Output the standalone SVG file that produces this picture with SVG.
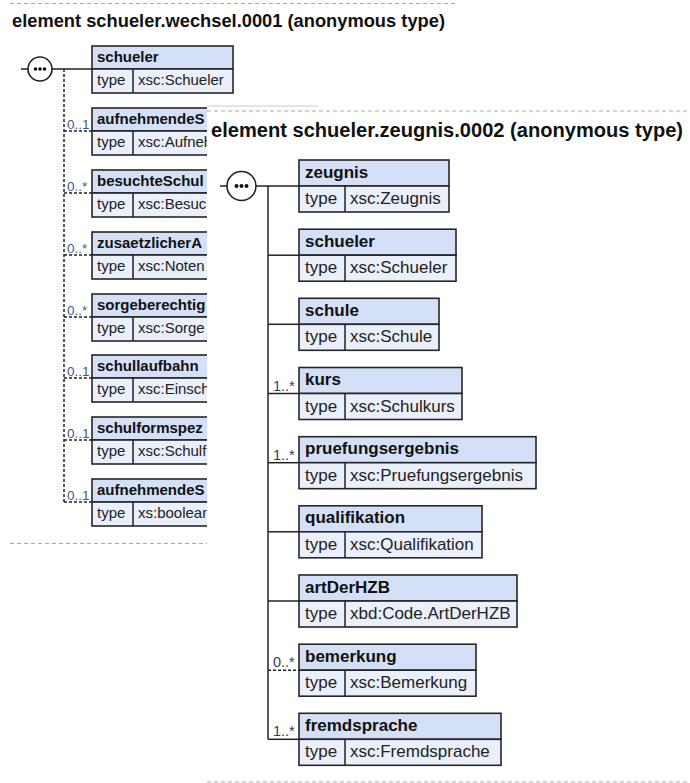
<svg xmlns="http://www.w3.org/2000/svg" width="690" height="783" viewBox="0 0 690 783">
<style>
.sep{stroke:#aaa;stroke-width:1;stroke-dasharray:4 3;fill:none}
.hd{fill:#d4e0f7;stroke:#262626;stroke-width:1.6}
.ty{fill:#e9effb;stroke:#262626;stroke-width:1.6}
.ln{stroke:#222;stroke-width:1.5;fill:none}
.dl{stroke:#222;stroke-width:1.5;fill:none;stroke-dasharray:3 2}
.t1{font-family:"Liberation Sans",Arial,sans-serif;font-weight:bold;font-size:18px;fill:#111}
.t2{font-family:"Liberation Sans",Arial,sans-serif;font-weight:bold;font-size:20px;fill:#111}
.n1{font-family:"Liberation Sans",Arial,sans-serif;font-weight:bold;font-size:15px;fill:#111}
.v1{font-family:"Liberation Sans",Arial,sans-serif;font-size:15px;fill:#222}
.n2{font-family:"Liberation Sans",Arial,sans-serif;font-weight:bold;font-size:17px;fill:#111}
.v2{font-family:"Liberation Sans",Arial,sans-serif;font-size:17px;fill:#222}
.m1{font-family:"Liberation Sans",Arial,sans-serif;font-size:13.5px;fill:#3a5c94}
.m2{font-family:"Liberation Sans",Arial,sans-serif;font-size:14.5px;fill:#2e3d5c}
.circ{fill:#fff;stroke:#222;stroke-width:1.6}
.dot{fill:#111}
</style>
<defs>
<clipPath id="leftclip"><rect x="0" y="0" width="690" height="106"/><rect x="0" y="106" width="207" height="677"/></clipPath>
</defs>
<rect width="690" height="783" fill="#fff"/>

<!-- Diagram 1 (background, cut by overlay) -->
<g id="diagram1">
<line class="sep" x1="10" y1="3.5" x2="455" y2="3.5"/>
<text class="t1" x="12" y="27" textLength="433" lengthAdjust="spacingAndGlyphs">element schueler.wechsel.0001 (anonymous type)</text>
<line class="sep" x1="10" y1="543.5" x2="207" y2="543.5"/>
</g>

<g id="connectors1" clip-path="url(#leftclip)">
<line class="ln" x1="21" y1="69" x2="28" y2="69"/>
<line class="ln" x1="52" y1="69" x2="92" y2="69"/>
<line class="dl" x1="64" y1="69" x2="64" y2="502"/>
<line class="dl" x1="64" y1="131" x2="92" y2="131"/>
<line class="dl" x1="64" y1="193" x2="92" y2="193"/>
<line class="dl" x1="64" y1="255" x2="92" y2="255"/>
<line class="dl" x1="64" y1="317" x2="92" y2="317"/>
<line class="dl" x1="64" y1="378" x2="92" y2="378"/>
<line class="dl" x1="64" y1="440" x2="92" y2="440"/>
<line class="dl" x1="64" y1="502" x2="92" y2="502"/>
<text class="m1" x="67" y="129">0..1</text>
<text class="m1" x="67" y="191">0..*</text>
<text class="m1" x="67" y="253">0..*</text>
<text class="m1" x="67" y="315">0..*</text>
<text class="m1" x="67" y="376">0..1</text>
<text class="m1" x="67" y="438">0..1</text>
<text class="m1" x="67" y="500">0..1</text>
</g>

<g id="seq1">
<circle class="circ" cx="40" cy="69" r="12"/>
<circle class="dot" cx="35.5" cy="69" r="1.8"/>
<circle class="dot" cx="40" cy="69" r="1.8"/>
<circle class="dot" cx="44.5" cy="69" r="1.8"/>
</g>

<g clip-path="url(#leftclip)">
<g id="w-schueler">
<rect class="hd" x="92" y="46" width="141" height="23"/>
<rect class="ty" x="92" y="69" width="141" height="24"/>
<line class="ln" x1="133" y1="69" x2="133" y2="93"/>
<text class="n1" x="97" y="62">schueler</text>
<text class="v1" x="97" y="85">type</text>
<text class="v1" x="138" y="85">xsc:Schueler</text>
</g>
<g id="w-aufnehmendeSchule">
<rect class="hd" x="92" y="108" width="160" height="23"/>
<rect class="ty" x="92" y="131" width="160" height="24"/>
<line class="ln" x1="133" y1="131" x2="133" y2="155"/>
<text class="n1" x="97" y="124">aufnehmendeS</text>
<text class="v1" x="97" y="147">type</text>
<text class="v1" x="138" y="147">xsc:Aufneh</text>
</g>
<g id="w-besuchteSchule">
<rect class="hd" x="92" y="170" width="160" height="23"/>
<rect class="ty" x="92" y="193" width="160" height="24"/>
<line class="ln" x1="133" y1="193" x2="133" y2="217"/>
<text class="n1" x="97" y="186">besuchteSchul</text>
<text class="v1" x="97" y="209">type</text>
<text class="v1" x="138" y="209">xsc:Besuc</text>
</g>
<g id="w-zusaetzlicher">
<rect class="hd" x="92" y="232" width="160" height="23"/>
<rect class="ty" x="92" y="255" width="160" height="24"/>
<line class="ln" x1="133" y1="255" x2="133" y2="279"/>
<text class="n1" x="97" y="248">zusaetzlicherA</text>
<text class="v1" x="97" y="271">type</text>
<text class="v1" x="138" y="271">xsc:Noten</text>
</g>
<g id="w-sorgeberechtigte">
<rect class="hd" x="92" y="294" width="160" height="23"/>
<rect class="ty" x="92" y="317" width="160" height="24"/>
<line class="ln" x1="133" y1="317" x2="133" y2="341"/>
<text class="n1" x="97" y="310">sorgeberechtig</text>
<text class="v1" x="97" y="333">type</text>
<text class="v1" x="138" y="333">xsc:Sorge</text>
</g>
<g id="w-schullaufbahn">
<rect class="hd" x="92" y="355" width="160" height="23"/>
<rect class="ty" x="92" y="378" width="160" height="24"/>
<line class="ln" x1="133" y1="378" x2="133" y2="402"/>
<text class="n1" x="97" y="371">schullaufbahn</text>
<text class="v1" x="97" y="394">type</text>
<text class="v1" x="138" y="394">xsc:Einsch</text>
</g>
<g id="w-schulformspez">
<rect class="hd" x="92" y="417" width="160" height="23"/>
<rect class="ty" x="92" y="440" width="160" height="24"/>
<line class="ln" x1="133" y1="440" x2="133" y2="464"/>
<text class="n1" x="97" y="433">schulformspez</text>
<text class="v1" x="97" y="456">type</text>
<text class="v1" x="138" y="456">xsc:Schulf</text>
</g>
<g id="w-aufnehmendeS2">
<rect class="hd" x="92" y="479" width="160" height="23"/>
<rect class="ty" x="92" y="502" width="160" height="24"/>
<line class="ln" x1="133" y1="502" x2="133" y2="526"/>
<text class="n1" x="97" y="495">aufnehmendeS</text>
<text class="v1" x="97" y="518">type</text>
<text class="v1" x="138" y="518">xs:boolean</text>
</g>
</g>

<!-- Diagram 2 (overlay) -->
<g id="diagram2">
<rect x="207" y="106" width="483" height="677" fill="#fff"/>
<line x1="207" y1="106" x2="318" y2="106" stroke="#ccc" stroke-width="1"/>
<line class="sep" x1="207" y1="111" x2="690" y2="111"/>
<text class="t2" x="211" y="137" textLength="472" lengthAdjust="spacingAndGlyphs">element schueler.zeugnis.0002 (anonymous type)</text>
<line class="sep" x1="207" y1="782" x2="690" y2="782"/>
</g>

<g id="connectors2">
<line class="ln" x1="220" y1="186" x2="227" y2="186"/>
<line class="ln" x1="256" y1="186" x2="299" y2="186"/>
<line class="ln" x1="268" y1="186" x2="268" y2="739.3"/>
<line class="ln" x1="268" y1="255.2" x2="299" y2="255.2"/>
<line class="ln" x1="268" y1="324.3" x2="299" y2="324.3"/>
<line class="ln" x1="268" y1="393.5" x2="299" y2="393.5"/>
<line class="ln" x1="268" y1="462.7" x2="299" y2="462.7"/>
<line class="ln" x1="268" y1="531.8" x2="299" y2="531.8"/>
<line class="ln" x1="268" y1="601" x2="299" y2="601"/>
<line class="dl" x1="268" y1="670.2" x2="299" y2="670.2"/>
<line class="ln" x1="268" y1="739.3" x2="299" y2="739.3"/>
<text class="m2" x="273" y="390.5">1..*</text>
<text class="m2" x="273" y="459.7">1..*</text>
<text class="m2" x="273" y="667.2">0..*</text>
<text class="m2" x="273" y="736.3">1..*</text>
</g>

<g id="seq2">
<circle class="circ" cx="241.5" cy="186" r="14.5"/>
<circle class="dot" cx="236.5" cy="186" r="2"/>
<circle class="dot" cx="241.5" cy="186" r="2"/>
<circle class="dot" cx="246.5" cy="186" r="2"/>
</g>

<g id="z-zeugnis">
<rect class="hd" x="299" y="160" width="150" height="26"/>
<rect class="ty" x="299" y="186" width="150" height="26"/>
<line class="ln" x1="345" y1="186" x2="345" y2="212"/>
<text class="n2" x="305" y="177.5">zeugnis</text>
<text class="v2" x="305" y="204">type</text>
<text class="v2" x="350" y="204">xsc:Zeugnis</text>
</g>
<g id="z-schueler">
<rect class="hd" x="299" y="229.2" width="157" height="26"/>
<rect class="ty" x="299" y="255.2" width="157" height="26"/>
<line class="ln" x1="345" y1="255.2" x2="345" y2="281.2"/>
<text class="n2" x="305" y="246.7">schueler</text>
<text class="v2" x="305" y="273.2">type</text>
<text class="v2" x="350" y="273.2">xsc:Schueler</text>
</g>
<g id="z-schule">
<rect class="hd" x="299" y="298.3" width="140" height="26"/>
<rect class="ty" x="299" y="324.3" width="140" height="26"/>
<line class="ln" x1="345" y1="324.3" x2="345" y2="350.3"/>
<text class="n2" x="305" y="315.8">schule</text>
<text class="v2" x="305" y="342.3">type</text>
<text class="v2" x="350" y="342.3">xsc:Schule</text>
</g>
<g id="z-kurs">
<rect class="hd" x="299" y="367.5" width="163" height="26"/>
<rect class="ty" x="299" y="393.5" width="163" height="26"/>
<line class="ln" x1="345" y1="393.5" x2="345" y2="419.5"/>
<text class="n2" x="305" y="385">kurs</text>
<text class="v2" x="305" y="411.5">type</text>
<text class="v2" x="350" y="411.5">xsc:Schulkurs</text>
</g>
<g id="z-pruefungsergebnis">
<rect class="hd" x="299" y="436.7" width="237" height="26"/>
<rect class="ty" x="299" y="462.7" width="237" height="26"/>
<line class="ln" x1="345" y1="462.7" x2="345" y2="488.7"/>
<text class="n2" x="305" y="454.2">pruefungsergebnis</text>
<text class="v2" x="305" y="480.7">type</text>
<text class="v2" x="350" y="480.7">xsc:Pruefungsergebnis</text>
</g>
<g id="z-qualifikation">
<rect class="hd" x="299" y="505.8" width="183" height="26"/>
<rect class="ty" x="299" y="531.8" width="183" height="26"/>
<line class="ln" x1="345" y1="531.8" x2="345" y2="557.8"/>
<text class="n2" x="305" y="523.3">qualifikation</text>
<text class="v2" x="305" y="549.8">type</text>
<text class="v2" x="350" y="549.8">xsc:Qualifikation</text>
</g>
<g id="z-artDerHZB">
<rect class="hd" x="299" y="575" width="218" height="26"/>
<rect class="ty" x="299" y="601" width="218" height="26"/>
<line class="ln" x1="345" y1="601" x2="345" y2="627"/>
<text class="n2" x="305" y="592.5">artDerHZB</text>
<text class="v2" x="305" y="619">type</text>
<text class="v2" x="350" y="619">xbd:Code.ArtDerHZB</text>
</g>
<g id="z-bemerkung">
<rect class="hd" x="299" y="644.2" width="177" height="26"/>
<rect class="ty" x="299" y="670.2" width="177" height="26"/>
<line class="ln" x1="345" y1="670.2" x2="345" y2="696.2"/>
<text class="n2" x="305" y="661.7">bemerkung</text>
<text class="v2" x="305" y="688.2">type</text>
<text class="v2" x="350" y="688.2">xsc:Bemerkung</text>
</g>
<g id="z-fremdsprache">
<rect class="hd" x="299" y="713.3" width="202" height="26"/>
<rect class="ty" x="299" y="739.3" width="202" height="26"/>
<line class="ln" x1="345" y1="739.3" x2="345" y2="765.3"/>
<text class="n2" x="305" y="730.8">fremdsprache</text>
<text class="v2" x="305" y="757.3">type</text>
<text class="v2" x="350" y="757.3">xsc:Fremdsprache</text>
</g>
</svg>
